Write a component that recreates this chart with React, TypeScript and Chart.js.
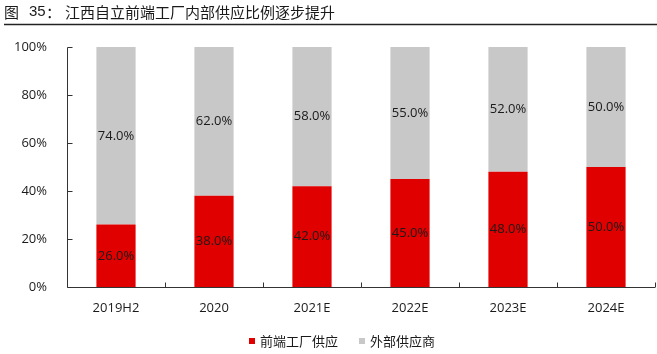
import React, { useEffect, useRef } from "react";
import { Chart, registerables } from "chart.js";

Chart.register(...registerables);

const categories = ["2019H2", "2020", "2021E", "2022E", "2023E", "2024E"];
const inHouse = [26, 38, 42, 45, 48, 50];
const external = [74, 62, 58, 55, 52, 50];
const yTicks = [0, 20, 40, 60, 80, 100];
const seriesNames = ["前端工厂供应", "外部供应商"];
const titlePrefix = "图";
const titleNum = "35：";
const titleText = "江西自立前端工厂内部供应比例逐步提升";

const RED = "#E00000";
const GRAY = "#C8C8C8";
const FONT = "'Open Sans', 'Noto Sans CJK SC', sans-serif";
const CJK = "'Noto Sans CJK SC', sans-serif";

const customPlugin = {
  id: "custom",
  afterDatasetsDraw(chart: any) {
    const ctx = chart.ctx;
    const area = chart.chartArea;
    const ys = chart.scales.y;
    ctx.save();
    // labels
    ctx.font = `13px ${FONT}`;
    ctx.fillStyle = "#1a1a1a";
    ctx.textAlign = "center";
    ctx.textBaseline = "middle";
    chart.data.datasets.forEach((ds: any, di: number) => {
      const meta = chart.getDatasetMeta(di);
      meta.data.forEach((bar: any, i: number) => {
        const v = ds.data[i];
        const yMid = (bar.y + bar.base) / 2;
        ctx.fillText(v.toFixed(1) + "%", bar.x, yMid);
      });
    });
    // axes
    ctx.strokeStyle = "#333";
    ctx.lineWidth = 1;
    const x0 = Math.round(area.left) + 0.5;
    const yb = Math.round(area.bottom) + 0.5;
    ctx.beginPath();
    ctx.moveTo(x0, Math.round(area.top) + 0.5);
    ctx.lineTo(x0, yb);
    ctx.lineTo(area.right, yb);
    yTicks.forEach((t) => {
      const y = Math.round(ys.getPixelForValue(t)) + 0.5;
      ctx.moveTo(x0, y);
      ctx.lineTo(x0 + 5, y);
    });
    const n = categories.length;
    const w = (area.right - area.left) / n;
    for (let i = 1; i <= n; i++) {
      const x = Math.round(area.left + w * i) + 0.5;
      ctx.moveTo(x, yb);
      ctx.lineTo(x, yb - 5);
    }
    ctx.stroke();
    // title
    ctx.textAlign = "left";
    ctx.textBaseline = "middle";
    ctx.font = `15px ${CJK}`;
    ctx.fillStyle = "#1a1a1a";
    ctx.fillText(titlePrefix, 4, 12);
    ctx.font = `15px 'Liberation Sans', Arial, sans-serif`;
    ctx.fillText("35", 29, 12);
    ctx.font = `15px ${CJK}`;
    ctx.fillText("：", 46, 12);
    ctx.fillText(titleText, 65, 12);
    ctx.beginPath();
    ctx.strokeStyle = "#222";
    ctx.lineWidth = 1.5;
    ctx.moveTo(4, 24.5);
    ctx.lineTo(657, 24.5);
    ctx.stroke();
    // legend
    ctx.font = `13px ${CJK}`;
    const ly = 341;
    ctx.fillStyle = RED;
    ctx.fillRect(249, ly - 3, 6, 6);
    ctx.fillStyle = "#1a1a1a";
    ctx.fillText(seriesNames[0], 260, ly);
    ctx.fillStyle = GRAY;
    ctx.fillRect(359, ly - 3, 6, 6);
    ctx.fillStyle = "#1a1a1a";
    ctx.fillText(seriesNames[1], 370, ly);
    ctx.restore();
  },
};

export default function App() {
  const ref = useRef<HTMLCanvasElement>(null);
  useEffect(() => {
    const chart = new Chart(ref.current!, {
      type: "bar",
      data: {
        labels: categories,
        datasets: [
          { label: seriesNames[0], data: inHouse, backgroundColor: RED, barPercentage: 0.4, categoryPercentage: 1 },
          { label: seriesNames[1], data: external, backgroundColor: GRAY, barPercentage: 0.4, categoryPercentage: 1 },
        ],
      },
      options: {
        responsive: false,
        animation: false,
        devicePixelRatio: 1,
        layout: { padding: { left: 0, right: 2, top: 47, bottom: 0 } },
        plugins: { legend: { display: false }, tooltip: { enabled: false }, title: { display: false } },
        scales: {
          x: {
            stacked: true,
            grid: { display: false },
            border: { display: false },
            ticks: { color: "#1a1a1a", font: { size: 13, family: FONT }, padding: 5 },
            afterFit: (s: any) => { s.height = 67; },
          },
          y: {
            stacked: true,
            min: 0,
            max: 100,
            grid: { display: false },
            border: { display: false },
            afterBuildTicks: (s: any) => { s.ticks = yTicks.map((v) => ({ value: v })); },
            ticks: { color: "#1a1a1a", font: { size: 13, family: FONT }, padding: 12, callback: (v: any) => v + "%" },
            afterFit: (s: any) => { s.width = 67; },
          },
        },
      },
      plugins: [customPlugin],
    });
    return () => chart.destroy();
  }, []);
  return (
    <div style={{ position: "fixed", left: 0, top: 0, width: 657, height: 354, background: "#fff" }}>
      <canvas ref={ref} width={657} height={354} />
    </div>
  );
}
